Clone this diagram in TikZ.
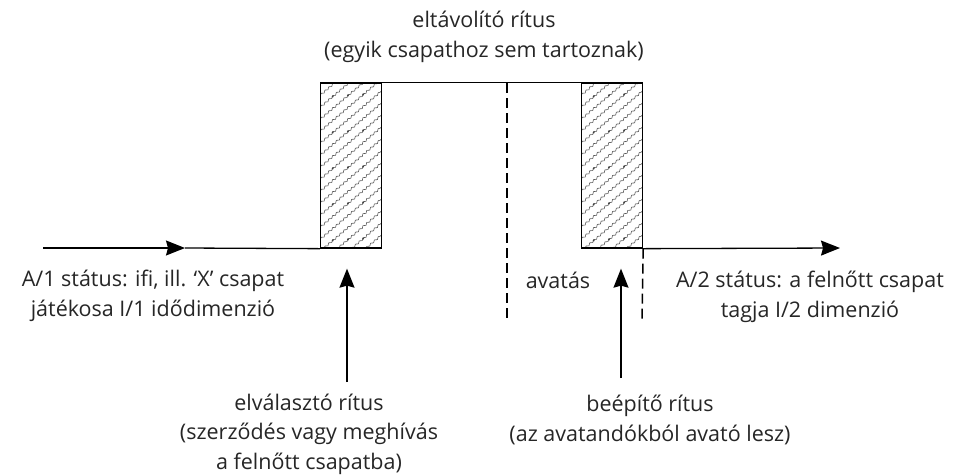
\documentclass[tikz,border=0pt]{standalone}
\usepackage{fontspec}
\setmainfont{Open Sans}
\usetikzlibrary{arrows.meta,decorations.pathmorphing}

\tikzset{
  hatch/.style={gray!70!black, line width=0.6pt, decorate,
    decoration={snake, amplitude=0.9pt, segment length=5pt}},
  ritebox/.style={draw, line width=1.3pt, minimum width=61pt, minimum height=165pt,
    inner sep=0pt,
    path picture={
      \foreach \k [count=\n] in {0,12,...,228} {
        \draw[hatch] ([yshift=-\k pt]path picture bounding box.north west) -- ++(61pt,52pt);
        \pgfmathsetmacro\where{0.2+0.25*mod(\n,3)}
        \path ([yshift=-\k pt]path picture bounding box.north west) -- ++(61pt,52pt)
          coordinate[pos=\where] (dot);
        \fill[gray!50!black] (dot) circle[radius=1pt];
      }
    }},
  flow/.style={line width=1.3pt, -{Stealth[length=19pt, width=15pt, inset=2pt]}},
  edge/.style={line width=1.3pt},
  cutline/.style={line width=1.5pt, dash pattern=on 10pt off 5pt},
  note/.style={text=black!85, font=\fontsize{21.5}{29.5}\selectfont, align=center, inner sep=0pt}
}

\begin{document}
\begin{tikzpicture}[x=1pt, y=-1pt]
    \useasboundingbox (0,0) rectangle (955,475);

    \coordinate (start) at (43,248);
    \coordinate (mid) at (185,248);
    \coordinate (end) at (840,248);
    \coordinate (cut) at (507,83);
    \coordinate (cutend) at (507,318);
    \coordinate (incend) at (642,320);
    \coordinate (sepfoot) at (347,382);
    \coordinate (incfoot) at (621,378);

    \node[ritebox] (sep) at (351,165.5) {};
    \node[ritebox] (inc) at (612,165.5) {};

    \node[note] (title) at (484,37) {eltávolító rítus\\(egyik csapathoz sem tartoznak)};
    \node[note] (before) at (153,296) {A/1 státus: ifi, ill. ‘X’ csapat\\játékosa I/1 idődimenzió};
    \node[note] (rite) at (558,280) {avatás};
    \node[note] (after) at (810,297) {A/2 státus: a felnőtt csapat\\tagja I/2 dimenzió};
    \node[note] (septext) at (309,434) {elválasztó rítus\\(szerződés vagy meghívás\\a felnőtt csapatba)};
    \node[note] (inctext) at (650,420) {beépítő rítus\\(az avatandókból avató lesz)};

    \draw[flow] (start) -- (mid);
    \draw[edge] (mid) -- (sep.south west);
    \draw[edge] (sep.north east) -- (inc.north west);
    \draw[flow] (inc.south east) -- (end);

    \draw[cutline] (cut) -- (cutend);
    \draw[cutline] (inc.south east) -- (incend);

    \draw[flow, shorten >=20pt] (sepfoot) -- (sepfoot |- sep.south);
    \draw[flow, shorten >=20pt] (incfoot) -- (incfoot |- inc.south);

\end{tikzpicture}
\end{document}
